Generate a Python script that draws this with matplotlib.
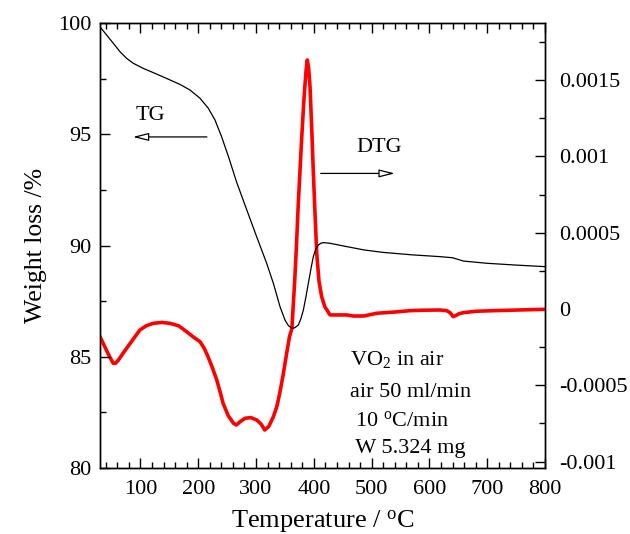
import matplotlib
matplotlib.use("Agg")
import matplotlib.pyplot as plt
from matplotlib.ticker import MultipleLocator, FixedLocator, FixedFormatter

plt.rcParams['font.family'] = ['Liberation Serif', 'DejaVu Serif']
plt.rcParams['mathtext.fontset'] = 'custom'
plt.rcParams['mathtext.rm'] = 'Liberation Serif'
plt.rcParams['mathtext.it'] = 'Liberation Serif:italic'
plt.rcParams['mathtext.bf'] = 'Liberation Serif:bold'

# TG curve (weight %, left axis)
tg_temp = [30, 41.5, 53, 64.6, 76.2, 87.6, 104.9, 122.2, 145.2, 168.4, 185.7,
           203, 217.4, 229, 240.4, 252, 266.4, 283.7, 301, 318.4, 330, 341.5,
           350.1, 356, 361.7, 367, 373.2, 377.5, 381.9, 386, 390.5, 395, 399.1,
           403.5, 407.8, 412, 416.4, 428, 457, 487, 520, 570, 618, 640, 659,
           700, 750, 800]
tg_wt = [99.83, 99.46, 99.09, 98.71, 98.41, 98.19, 97.96, 97.77, 97.51, 97.24,
         96.99, 96.62, 96.17, 95.64, 94.89, 94.02, 92.85, 91.62, 90.40, 89.20,
         88.30, 87.25, 86.65, 86.40, 86.28, 86.30, 86.43, 86.70, 87.10, 87.65,
         88.30, 88.95, 89.50, 89.85, 90.02, 90.10, 90.13, 90.10, 89.95, 89.80,
         89.69, 89.58, 89.50, 89.45, 89.30, 89.20, 89.12, 89.05]

# DTG curve (right axis)
dtg_temp = [30, 41, 47, 53, 57, 62, 69, 76, 88, 99, 110, 122, 137, 151, 166,
            180, 192, 203, 210, 217, 225, 232, 238, 243, 252, 261, 266, 272,
            281, 291, 301, 309, 315, 322, 330, 336, 341, 347, 353, 358, 362,
            367, 370, 373, 376, 379, 383, 386.5, 388.7, 391, 393.4, 396, 399,
            402, 405, 409, 413.6, 419, 428, 457, 468, 486, 509, 540, 566, 590,
            618, 630, 636, 641, 646, 652, 659, 680, 711, 760, 800]
dtg_val = [-1.81e-4, -2.69e-4, -3.15e-4, -3.56e-4, -3.55e-4, -3.34e-4, -2.95e-4,
           -2.58e-4, -1.95e-4, -1.38e-4, -1.10e-4, -9.4e-5, -8.8e-5, -9.4e-5,
           -1.10e-4, -1.49e-4, -1.85e-4, -2.14e-4, -2.55e-4, -3.13e-4,
           -3.90e-4, -4.65e-4, -5.45e-4, -6.18e-4, -7.00e-4, -7.49e-4,
           -7.60e-4, -7.40e-4, -7.16e-4, -7.12e-4, -7.27e-4, -7.55e-4,
           -7.93e-4, -7.70e-4, -7.06e-4, -6.40e-4, -5.52e-4, -4.30e-4,
           -2.90e-4, -1.80e-4, -1.30e-4, 1.9e-4, 4.2e-4, 6.8e-4, 9.0e-4,
           1.12e-3, 1.38e-3, 1.56e-3, 1.632e-3, 1.58e-3, 1.457e-3, 1.22e-3,
           9.1e-4, 6.3e-4, 3.65e-4, 1.80e-4, 8.0e-5, 1.5e-5, -3.9e-5, -3.9e-5,
           -4.6e-5, -4.6e-5, -2.8e-5, -2.0e-5, -1.1e-5, -8e-6, -6.6e-6,
           -1.1e-5, -2.5e-5, -5.0e-5, -4.2e-5, -3.0e-5, -2.4e-5, -1.5e-5,
           -1.1e-5, -6e-6, -2e-6]

x_ticks = [100, 200, 300, 400, 500, 600, 700, 800]
tg_ticks = [80, 85, 90, 95, 100]
dtg_ticks = [-0.001, -0.0005, 0, 0.0005, 0.001, 0.0015]
dtg_tick_labels = ['-0.001', '-0.0005', '0', '0.0005', '0.001', '0.0015']

info_lines = ['VO$_2$ in air', 'air 50 ml/min', ' 10 $^{\\rm o}$C/min', ' W 5.324 mg']

fig = plt.figure(figsize=(6.3, 5.34), dpi=100)
ax = fig.add_axes([0.1587, 0.1236, 0.8651 - 0.1587, 0.9569 - 0.1236])
ax2 = ax.twinx()

ax.plot(tg_temp, tg_wt, color='black', lw=0.9, zorder=2)
ax2.plot(dtg_temp, dtg_val, color='#ff0000', lw=2.6, zorder=3)

ax.set_xlim(30, 800)
ax.set_ylim(80, 100)
ax2.set_ylim(-0.001042, 0.001874)

ax.xaxis.set_major_locator(FixedLocator(x_ticks))
ax.xaxis.set_minor_locator(MultipleLocator(20))
ax.yaxis.set_major_locator(FixedLocator(tg_ticks))
ax.yaxis.set_minor_locator(MultipleLocator(2.5))
ax2.yaxis.set_major_locator(FixedLocator(dtg_ticks))
ax2.yaxis.set_major_formatter(FixedFormatter(dtg_tick_labels))
ax2.yaxis.set_minor_locator(MultipleLocator(0.00025))

for a in (ax, ax2):
    for s in a.spines.values():
        s.set_linewidth(1.0)

ax.tick_params(axis='x', which='both', direction='in', top=True, bottom=True,
               labelsize=16, pad=9)
ax.tick_params(axis='y', which='both', direction='in', left=True, right=False,
               labelsize=16, pad=6)
ax.tick_params(which='major', length=7.5, width=1.0)
ax.tick_params(which='minor', length=4, width=1.0)
ax2.tick_params(axis='y', which='both', direction='in', right=True, left=False,
                labelsize=16, pad=10)
ax2.tick_params(which='major', length=7.5, width=1.0)
ax2.tick_params(which='minor', length=4.5, width=1.0)

ax.set_xlabel('Temperature / $^{\\rm o}$C', fontsize=19, labelpad=6.5)
ax.set_ylabel('Weight loss /%', fontsize=18.5, labelpad=8)

arrow_style = '-|>,head_length=0.95,head_width=0.24'
# TG label and arrow
ax.text(118, 95.84, 'TG', fontsize=16, ha='center', va='center')
ax.annotate('', xy=(87, 94.88), xytext=(215, 94.88),
            arrowprops=dict(arrowstyle=arrow_style, shrinkA=0, shrinkB=0,
                            fc='white', ec='black', lw=0.9))
# DTG label and arrow
ax.text(513, 94.41, 'DTG', fontsize=16, ha='center', va='center')
ax.annotate('', xy=(540, 93.24), xytext=(412, 93.24),
            arrowprops=dict(arrowstyle=arrow_style, shrinkA=0, shrinkB=0,
                            fc='white', ec='black', lw=0.9))

# info block
info_y = [84.63, 83.19, 81.89, 80.67]
for line, yy in zip(info_lines, info_y):
    ax.text(462, yy, line, fontsize=16, ha='left', va='baseline')

ax.set_zorder(ax2.get_zorder() + 1)
ax.patch.set_visible(False)

fig.savefig('out.png', dpi=100)
